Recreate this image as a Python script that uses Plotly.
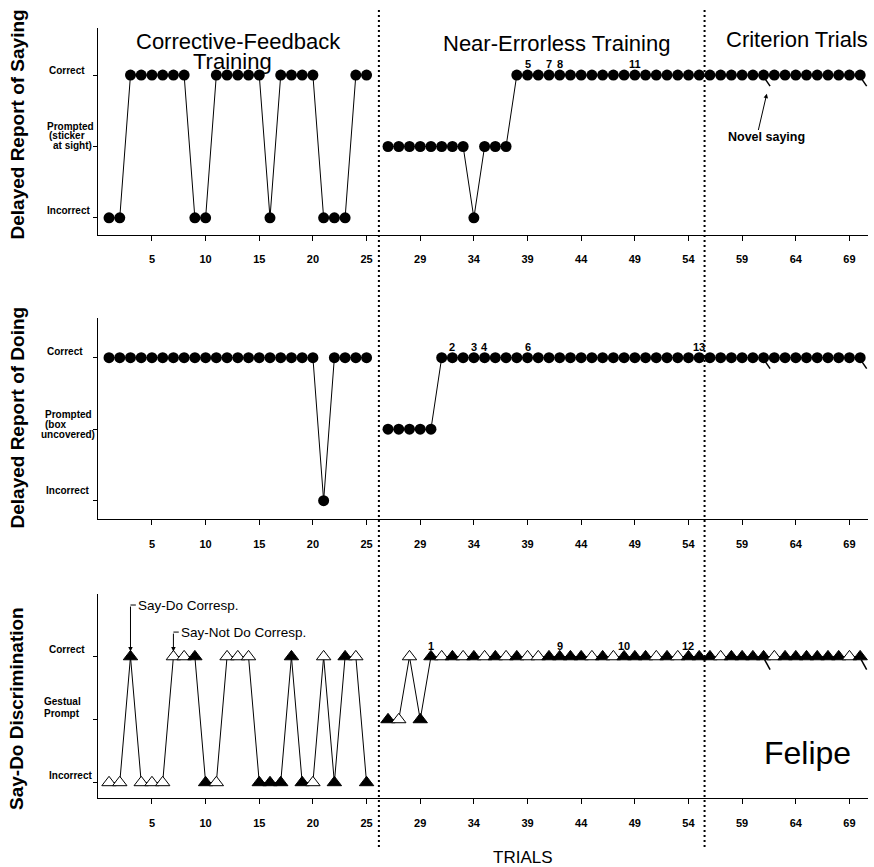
import plotly.graph_objects as go

W, H = 874, 867
FONT = "Liberation Sans, Arial, sans-serif"

# ---------------- data ----------------
# level codes: 0 = Incorrect, 1 = Prompted / Gestual Prompt, 2 = Correct
trials_p1 = list(range(1, 26))      # Corrective-Feedback Training
trials_p23 = list(range(26, 71))    # Near-Errorless Training + Criterion Trials

saying_p1 = [0, 0, 2, 2, 2, 2, 2, 2, 0, 0, 2, 2, 2, 2, 2, 0, 2, 2, 2, 2, 0, 0, 0, 2, 2]
saying_p23 = [1, 1, 1, 1, 1, 1, 1, 1, 0, 1, 1, 1,
              2, 2, 2, 2, 2, 2, 2, 2, 2, 2, 2, 2, 2, 2, 2, 2, 2,
              2, 2, 2, 2, 2, 2, 2, 2, 2, 2, 2, 2, 2, 2, 2, 2]

doing_p1 = [2, 2, 2, 2, 2, 2, 2, 2, 2, 2, 2, 2, 2, 2, 2, 2, 2, 2, 2, 2, 0, 2, 2, 2, 2]
doing_p23 = [1, 1, 1, 1, 1,
             2, 2, 2, 2, 2, 2, 2, 2, 2, 2, 2, 2, 2, 2, 2, 2, 2, 2, 2, 2,
             2, 2, 2, 2, 2, 2, 2, 2, 2, 2, 2, 2, 2, 2, 2, 2, 2, 2, 2, 2]

disc_p1 = [0, 0, 2, 0, 0, 0, 2, 2, 2, 0, 0, 2, 2, 2, 0, 0, 0, 2, 0, 0, 2, 0, 2, 2, 0]
disc_p23 = [1, 1, 2, 1,
            2, 2, 2, 2, 2, 2, 2, 2, 2, 2, 2, 2, 2, 2, 2, 2, 2, 2, 2, 2, 2,
            2, 2, 2, 2, 2, 2, 2, 2, 2, 2, 2, 2, 2, 2, 2, 2, 2, 2, 2, 2]
# 1 = Say-Do correspondence (filled), 0 = Say-Not Do correspondence (open)
corresp_p1 = [0, 0, 1, 0, 0, 0, 0, 0, 1, 1, 0, 0, 0, 0, 1, 1, 1, 1, 1, 0, 0, 1, 1, 0, 1]
corresp_p23 = [1, 0, 0, 1,
               1, 0, 1, 0, 1, 0, 1, 0, 1, 0, 0, 1, 1, 1, 1, 0, 1,
               0, 1, 1, 1, 0, 1, 0, 1, 1, 1, 0, 1, 1, 1, 1, 0, 1,
               1, 1, 1, 1, 1, 0, 1]

tick_trials = [5, 10, 15, 20, 25, 29, 34, 39, 44, 49, 54, 59, 64, 69]
novel_trials = [61, 70]
num_saying = {39: "5", 41: "7", 42: "8", 49: "11"}
num_doing = {32: "2", 34: "3", 35: "4", 39: "6", 55: "13"}
num_disc = {30: "1", 42: "9", 48: "10", 54: "12"}
say_do_trial, say_not_trial = 3, 7
phase_bounds = [26.15, 56.5]   # axis positions of the phase-change lines


def pos(t):
    # axis has a one-slot break between trial 25 and trial 26
    return t if t <= 25 else t + 1


xs = [pos(t) for t in trials_p1] + [26] + [pos(t) for t in trials_p23]


def join(a, b):
    return list(a) + [None] + list(b)


# ---------------- layout geometry ----------------
XDOM = [98.3 / W, 868 / W]
XRANGE = [0, 71.73]
panels = [
    dict(dom=[1 - 235 / H, 1 - 28 / H], rng=[-0.24, 2.66]),
    dict(dom=[1 - 519.3 / H, 1 - 318 / H], rng=[-0.26, 2.555]),
    dict(dom=[1 - 798.3 / H, 1 - 594 / H], rng=[-0.25, 2.995]),
]

fig = go.Figure()

line_style = dict(color="black", width=1)
# Panel 1
fig.add_trace(go.Scatter(x=xs, y=join(saying_p1, saying_p23), mode="lines+markers",
                         line=line_style, marker=dict(symbol="circle", size=11, color="black"),
                         xaxis="x", yaxis="y", showlegend=False, connectgaps=False))
# Panel 2
fig.add_trace(go.Scatter(x=xs, y=join(doing_p1, doing_p23), mode="lines+markers",
                         line=line_style, marker=dict(symbol="circle", size=11, color="black"),
                         xaxis="x2", yaxis="y2", showlegend=False, connectgaps=False))
# Panel 3
fills = ["black" if c == 1 else "white" for c in corresp_p1] + ["white"] + \
        ["black" if c == 1 else "white" for c in corresp_p23]
fig.add_trace(go.Scatter(x=xs, y=join(disc_p1, disc_p23), mode="lines+markers",
                         line=line_style,
                         marker=dict(symbol="triangle-up", size=12.5, color=fills,
                                     line=dict(color="black", width=1)),
                         xaxis="x3", yaxis="y3", showlegend=False, connectgaps=False))

tickvals = [pos(t) for t in tick_trials]
ticktext = [str(t) for t in tick_trials]

layout = dict(
    width=W, height=H, margin=dict(l=0, r=0, t=0, b=0),
    paper_bgcolor="white", plot_bgcolor="white",
    font=dict(family=FONT, color="black"),
    showlegend=False,
)
for i, p in enumerate(panels):
    sx = "" if i == 0 else str(i + 1)
    layout["xaxis" + sx] = dict(
        domain=XDOM, range=XRANGE, anchor="y" + sx, showline=True, linecolor="black",
        linewidth=1, ticks="outside", ticklen=5, tickcolor="black", tickwidth=1,
        tickvals=tickvals, ticktext=ticktext, showgrid=False, zeroline=False,
        tickfont=dict(family=FONT, size=11, color="black", weight="bold"),
        ticklabelstandoff=9,
    )
    layout["yaxis" + sx] = dict(
        domain=p["dom"], range=p["rng"], anchor="x" + sx, showline=True, linecolor="black",
        linewidth=1, ticks="outside", ticklen=4, tickcolor="black", tickvals=[0, 1, 2],
        showticklabels=False, showgrid=False, zeroline=False,
    )
fig.update_layout(**layout)

ann = []
shapes = []

# phase-change dotted lines
for b in phase_bounds:
    shapes.append(dict(type="line", xref="x", yref="paper", x0=b, x1=b,
                       y0=1 - 847 / H, y1=1 - 7 / H,
                       line=dict(color="black", width=2, dash="2px,3px")))

# level labels: (axis suffix, text, level, yshift px, left x px)
level_labels = [
    ("", "Correct", 2, 5, 47), ("", "Prompted", 1, 20, 45), ("", "(sticker", 1, 10.5, 47),
    ("", "at sight)", 1, 1, 51), ("", "Incorrect", 0, 7.5, 45),
    ("2", "Correct", 2, 6.5, 45), ("2", "Prompted", 1, 15, 43), ("2", "(box", 1, 5, 43),
    ("2", "uncovered)", 1, -5, 39), ("2", "Incorrect", 0, 10, 44),
    ("3", "Correct", 2, 7.5, 47), ("3", "Gestual", 1, 18, 42), ("3", "Prompt", 1, 6.5, 42),
    ("3", "Incorrect", 0, 7.5, 47),
]
for sx, txt, lvl, ysh, xpx in level_labels:
    ann.append(dict(text=txt, xref="paper", yref="y" + sx, x=xpx / W, y=lvl, yshift=ysh,
                    xanchor="left", yanchor="middle", showarrow=False,
                    font=dict(family=FONT, size=10, color="black", weight="bold")))

# y-axis titles
for txt, ypx in [("Delayed Report of Saying", 125), ("Delayed Report of Doing", 418),
                 ("Say-Do Discrimination", 708.5)]:
    ann.append(dict(text=txt, xref="paper", yref="paper", x=16.5 / W, y=1 - ypx / H,
                    textangle=-90, showarrow=False, xanchor="center", yanchor="middle",
                    font=dict(family=FONT, size=19, color="black", weight="bold")))

# phase titles
for txt, xpx, ypx in [("Corrective-Feedback", 238, 42), ("Training", 232.5, 61),
                      ("Near-Errorless Training", 556, 43), ("Criterion Trials", 797, 40)]:
    ann.append(dict(text=txt, xref="paper", yref="paper", x=xpx / W, y=1 - ypx / H,
                    showarrow=False, xanchor="center", yanchor="middle",
                    font=dict(family=FONT, size=22, color="black")))

# numbered markers
for sx, d in [("", num_saying), ("2", num_doing), ("3", num_disc)]:
    for t, lab in d.items():
        ann.append(dict(text=lab, xref="x" + sx, yref="y" + sx, x=pos(t), y=2, yshift=11,
                        showarrow=False, xanchor="center", yanchor="middle",
                        font=dict(family=FONT, size=11, color="black", weight="bold")))

# novel-saying tails
for sx in ["", "2", "3"]:
    dy = 13 if sx == "3" else 11
    for t in novel_trials:
        shapes.append(dict(type="line", xref="x" + sx, yref="y" + sx,
                           xsizemode="pixel", ysizemode="pixel", xanchor=pos(t), yanchor=2,
                           x0=1, x1=6.5, y0=-3, y1=-dy,
                           line=dict(color="black", width=1.5)))

# Novel saying arrow + text (top panel)
ann.append(dict(text="", xref="x", yref="y", axref="x", ayref="y",
                x=pos(novel_trials[0]) + 0.3, y=1.74, ax=pos(novel_trials[0]) - 0.52, ay=1.21,
                showarrow=True, arrowhead=2, arrowsize=0.9, arrowwidth=1, arrowcolor="black"))
ann.append(dict(text="Novel saying", xref="x", yref="y", x=pos(novel_trials[0]) + 0.23, y=1.13,
                showarrow=False, xanchor="center", yanchor="middle",
                font=dict(family=FONT, size=12.5, color="black", weight="bold")))

# Say-Do / Say-Not Do correspondence callouts (bottom panel)
for t, txt, ytop in [(say_do_trial, "Say-Do Corresp.", 2.82),
                     (say_not_trial, "Say-Not Do Corresp.", 2.39)]:
    ann.append(dict(text="", xref="x3", yref="y3", axref="x3", ayref="y3",
                    x=pos(t), y=2.08, ax=pos(t), ay=ytop, showarrow=True,
                    arrowhead=2, arrowsize=0.9, arrowwidth=1, arrowcolor="black"))
    shapes.append(dict(type="line", xref="x3", yref="y3", x0=pos(t), x1=pos(t) + 0.5,
                       y0=ytop, y1=ytop, line=dict(color="black", width=1)))
    ann.append(dict(text=txt, xref="x3", yref="y3", x=pos(t) + 0.5, y=ytop,
                    showarrow=False, xanchor="left", yanchor="middle",
                    font=dict(family=FONT, size=13.5, color="black")))

# Felipe and TRIALS
ann.append(dict(text="Felipe", xref="paper", yref="paper", x=807 / W, y=1 - 753 / H,
                showarrow=False, xanchor="center", yanchor="middle",
                font=dict(family=FONT, size=32, color="black")))
ann.append(dict(text="TRIALS", xref="paper", yref="paper", x=523 / W, y=1 - 857 / H,
                showarrow=False, xanchor="center", yanchor="middle",
                font=dict(family=FONT, size=17, color="black")))

fig.update_layout(annotations=ann, shapes=shapes)
fig.write_html("out.html", config={"displayModeBar": False},
               post_script="document.body.style.margin='0px';document.body.style.overflow='hidden';")
